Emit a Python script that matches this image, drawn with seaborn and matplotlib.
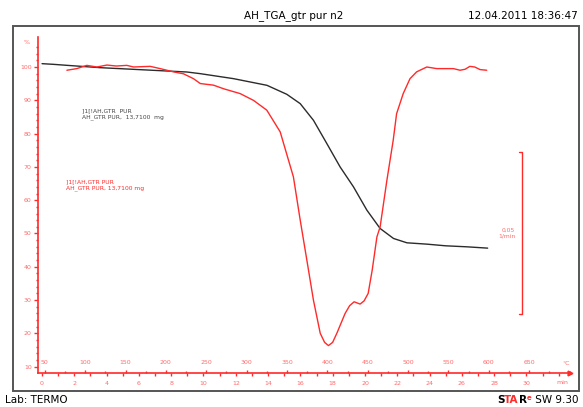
import numpy as np
import pandas as pd
import matplotlib
matplotlib.use("Agg")
import matplotlib.pyplot as plt
import seaborn as sns
from matplotlib.patches import Rectangle
from matplotlib.offsetbox import TextArea, HPacker, AnnotationBbox

# ---------------- data ----------------
tga_time = [0.0, 0.71, 1.54, 3.6, 5.67, 7.73, 8.97, 9.8, 11.86, 13.93, 15.16, 15.99,
            16.81, 17.64, 18.46, 19.29, 20.12, 20.94, 21.77, 22.6, 23.83, 25.0, 26.3, 27.6]
tga_mass = [101.0, 100.8, 100.5, 99.8, 99.3, 98.8, 98.5, 98.0, 96.5, 94.5, 91.8, 89.0,
            84.0, 77.0, 70.0, 64.0, 57.0, 51.5, 48.5, 47.2, 46.8, 46.3, 46.0, 45.6]

dtg_time = [1.54, 2.15, 2.77, 3.4, 4.02, 4.6, 5.25, 5.67, 6.7, 7.32, 8.14, 8.76, 9.38, 9.8,
            10.62, 11.24, 12.27, 13.1, 13.92, 14.75, 15.57, 15.99, 16.4, 16.81, 17.23, 17.5,
            17.74, 18.0, 18.26, 18.77, 19.05, 19.33, 19.7, 19.95, 20.2, 20.45, 20.74, 20.94,
            21.36, 21.75, 21.96, 22.37, 22.79, 23.2, 23.83, 24.45, 25.48, 25.89, 26.2, 26.5,
            26.8, 27.13, 27.54]
dtg_rate = [-0.0010, -0.0005, 0.0005, 0.0, 0.0006, 0.0003, 0.0005, 0.0, 0.0002, -0.0005,
            -0.0015, -0.0021, -0.0036, -0.0051, -0.0056, -0.0067, -0.0082, -0.0103, -0.0133,
            -0.0200, -0.0339, -0.0472, -0.0595, -0.0719, -0.0821, -0.0849, -0.0859, -0.0849,
            -0.0821, -0.0760, -0.0736, -0.0724, -0.0731, -0.0721, -0.0698, -0.0626, -0.0524,
            -0.0493, -0.0349, -0.0226, -0.0144, -0.0082, -0.0036, -0.0015, 0.0, -0.0005,
            -0.0005, -0.0010, -0.0007, 0.0002, 0.0, -0.0008, -0.0010]

y_ticks = [10, 20, 30, 40, 50, 60, 70, 80, 90, 100]
min_ticks = list(range(0, 31, 2))
temp_ticks = list(range(50, 651, 50))

title = "AH_TGA_gtr pur n2"
stamp = "12.04.2011 18:36:47"
lab = "Lab: TERMO"
curve_label = "]1[!AH,GTR  PUR\nAH_GTR PUR,  13,7100  mg"

# ---------------- style ----------------
sns.set_style("white")
plt.rcParams["font.family"] = ["DejaVu Sans"]

RED = "#ff2a2a"
RED_TXT = "#ff6b6b"
BLACK = "#2b2b2b"

fig = plt.figure(figsize=(5.83, 4.07), dpi=100)

# outer frame
fig.patches.append(Rectangle((13 / 583, 16 / 407), 566 / 583, 365 / 407,
                             transform=fig.transFigure, fill=False,
                             edgecolor="#555555", linewidth=1.4))

ax = fig.add_axes([38 / 583, 34 / 407, 532 / 583, 336.3 / 407])
ax.set_facecolor("none")
xlo, xhi = -0.25, 32.7
ylo, yhi = 8.1, 109.1
ax.set_xlim(xlo, xhi)
ax.set_ylim(ylo, yhi)

df_tga = pd.DataFrame({"t": tga_time, "m": tga_mass})
sns.lineplot(data=df_tga, x="t", y="m", ax=ax, color=BLACK, linewidth=1.0,
             estimator=None, sort=False)

# DTG on its own scale: 0.05 1/min spans 48.7 % units, 0 at 100 %
k = 0.05 / 48.7
ax2 = ax.twinx()
ax2.set_ylim((ylo - 100) * k, (yhi - 100) * k)
df_dtg = pd.DataFrame({"t": dtg_time, "r": dtg_rate})
sns.lineplot(data=df_dtg, x="t", y="r", ax=ax2, color=RED, linewidth=1.0,
             estimator=None, sort=False)
ax2.set_axis_off()

# spines
for s in ["top", "right"]:
    ax.spines[s].set_visible(False)
for s in ["left", "bottom"]:
    ax.spines[s].set_color(RED)
    ax.spines[s].set_linewidth(1.2)

ax.set_xlabel("")
ax.set_ylabel("")
ax.set_yticks(y_ticks)
ax.set_yticks(np.arange(10, 108, 2), minor=True)
ax.set_xticks(min_ticks)
ax.set_xticks(np.arange(0, 32.5, 1), minor=True)
ax.tick_params(axis="both", which="both", colors=RED, labelcolor=RED_TXT,
               labelsize=4.5, direction="out", width=1.0)
ax.tick_params(axis="y", which="major", length=3, pad=1.5)
ax.tick_params(axis="y", which="minor", length=1.8)
ax.tick_params(axis="x", which="major", length=2.5, pad=3.0)
ax.tick_params(axis="x", which="minor", length=1.8)

# temperature scale on the same baseline
def t2T(t):
    return 50 + 20 * (t - 0.17)

ax3 = ax.twiny()
ax3.set_xlim(t2T(xlo), t2T(xhi))
ax3.spines["top"].set_position(("axes", 0.0))
for s in ["top", "bottom", "left", "right"]:
    ax3.spines[s].set_visible(False)
ax3.set_xticks(temp_ticks)
ax3.set_xticks(np.arange(50, 701, 25), minor=True)
ax3.tick_params(axis="x", which="both", colors=RED, labelcolor=RED_TXT,
                labelsize=4.5, direction="out", width=1.0, pad=3.0)
ax3.tick_params(axis="x", which="major", length=2.5)
ax3.tick_params(axis="x", which="minor", length=1.8)

# arrow at end of the time axis
ax.plot([1.0], [0.0], marker=">", color=RED, markersize=3.5,
        transform=ax.transAxes, clip_on=False)

# axis unit labels
ax.annotate("%", xy=(0, 107.5), xycoords=("axes fraction", "data"),
            xytext=(-8, 0), textcoords="offset points", ha="center", va="center",
            fontsize=4.5, color=RED_TXT, annotation_clip=False)
ax.annotate("min", xy=(32.2, 0), xycoords=("data", "axes fraction"),
            xytext=(0, -7), textcoords="offset points", ha="center", va="center",
            fontsize=4.5, color=RED_TXT, annotation_clip=False)
ax.annotate("°C", xy=(32.45, 0), xycoords=("data", "axes fraction"),
            xytext=(0, 7), textcoords="offset points", ha="center", va="center",
            fontsize=4.5, color=RED_TXT, annotation_clip=False)

# curve annotations
ax.text(2.45, 87.5, curve_label, fontsize=4.3, color="#444444", va="top",
        ha="left", linespacing=1.25)
ax.text(1.49, 66.2, curve_label.replace("  ", " "), fontsize=4.3, color=RED,
        va="top", ha="left", linespacing=1.25)

# DTG scale bar (0.05 1/min)
bx = 29.7
ax2.plot([bx - 0.18, bx, bx, bx - 0.18],
         [-0.02618, -0.02618, -0.02618 - 0.05, -0.02618 - 0.05],
         color=RED, linewidth=1.0)
ax2.text(bx - 0.4, -0.02618 - 0.025, "0,05\n1/min", fontsize=4.3,
         color=RED_TXT, ha="right", va="center", linespacing=1.3)

# header / footer
fig.text(294 / 583, 1 - 16 / 407, title, ha="center", va="center",
         fontsize=7.5, color="black")
fig.text(578 / 583, 1 - 16 / 407, stamp, ha="right", va="center",
         fontsize=7.5, color="black")
fig.text(5 / 583, 1 - 400 / 407, lab, ha="left", va="center",
         fontsize=7.5, color="black")

parts = [TextArea("S", textprops=dict(color="black", fontsize=7.5, fontweight="bold")),
         TextArea("TA", textprops=dict(color=RED, fontsize=7.5, fontweight="bold")),
         TextArea("R", textprops=dict(color="black", fontsize=7.5, fontweight="bold")),
         TextArea("e", textprops=dict(color=RED, fontsize=5, fontweight="bold")),
         TextArea(" SW 9.30", textprops=dict(color="black", fontsize=7.5))]
box = HPacker(children=parts, align="top", pad=0, sep=0)
ab = AnnotationBbox(box, (578 / 583, 1 - 400 / 407), xycoords="figure fraction",
                    box_alignment=(1.0, 0.5), frameon=False, pad=0)
fig.add_artist(ab)

fig.savefig("out.png", dpi=100)
